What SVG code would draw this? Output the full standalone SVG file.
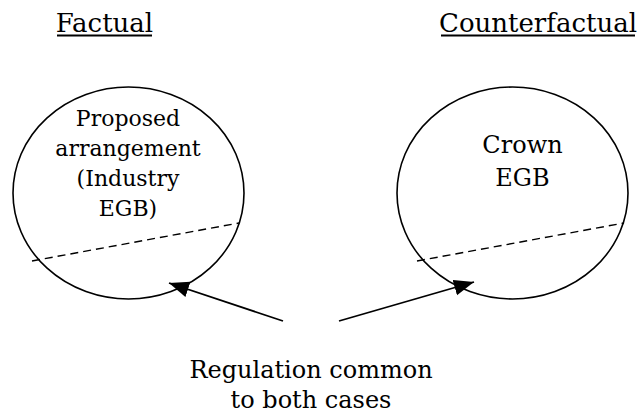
<svg xmlns="http://www.w3.org/2000/svg" width="637" height="417" viewBox="0 0 637 417">
<style>
text{font-family:'DejaVu Serif', serif;fill:#000;text-anchor:middle}
.t{font-size:26px}
.s{font-size:22px}
.m{font-size:24px}
.u{stroke:#000;stroke-width:1.8}
.c{fill:none;stroke:#000;stroke-width:1.6}
.d{fill:none;stroke:#000;stroke-width:1.4;stroke-dasharray:8,5}
.a{fill:none;stroke:#000;stroke-width:1.8}
</style>
<defs>
<marker id="ah" markerUnits="userSpaceOnUse" markerWidth="22" markerHeight="18" refX="20" refY="8" orient="auto">
<path d="M0,0 L20,8 L0,16 Z" fill="#000"/>
</marker>
</defs>
<g id="title-factual">
<text class="t" x="104.5" y="32">Factual</text>
<line class="u" x1="57" y1="35.5" x2="152" y2="35.5"/>
</g>
<g id="title-counterfactual">
<text class="t" x="538" y="32">Counterfactual</text>
<line class="u" x1="441" y1="35.5" x2="635" y2="35.5"/>
</g>
<g id="factual">
<ellipse class="c" cx="128.5" cy="193" rx="115.5" ry="106"/>
<line class="d" x1="32" y1="261" x2="239" y2="223"/>
<text class="s" x="128" y="126">Proposed</text>
<text class="s" x="128" y="156">arrangement</text>
<text class="s" x="128" y="186">(Industry</text>
<text class="s" x="128" y="216">EGB)</text>
</g>
<g id="counterfactual">
<ellipse class="c" cx="512.5" cy="193" rx="115.5" ry="106"/>
<line class="d" x1="417" y1="261" x2="624" y2="223"/>
<text class="m" x="522.5" y="153">Crown</text>
<text class="m" x="522.5" y="186">EGB</text>
</g>
<g id="regulation">
<text class="m" x="311" y="378">Regulation common</text>
<text class="m" x="311" y="408">to both cases</text>
</g>
<g id="connectors">
<line class="a" x1="283" y1="321" x2="169" y2="283" marker-end="url(#ah)"/>
<line class="a" x1="339" y1="321" x2="474" y2="282" marker-end="url(#ah)"/>
</g>
</svg>
